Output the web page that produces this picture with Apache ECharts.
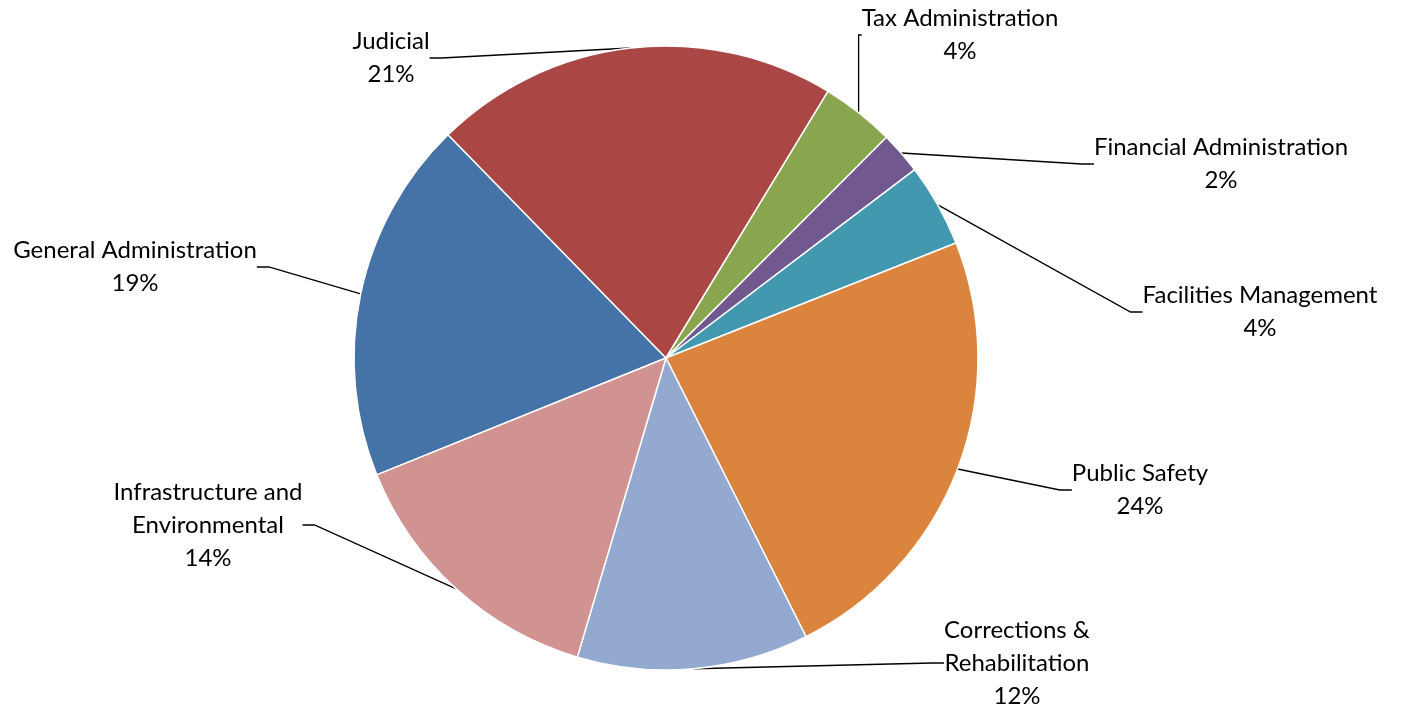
<!DOCTYPE html>
<html>
<head>
<meta charset="UTF-8">
<title>Budget by function</title>
<script src="https://cdn.jsdelivr.net/npm/echarts@6/dist/echarts.min.js"></script>
<style>
  html, body { margin: 0; padding: 0; background: #fff; }
  #main { width: 1402px; height: 709px; }
</style>
</head>
<body>
<div id="main"></div>
<script>
// categories, in the order the slices run clockwise
var categories = [
  'General Administration',
  'Judicial',
  'Tax Administration',
  'Financial Administration',
  'Facilities Management',
  'Public Safety',
  'Corrections &\nRehabilitation',
  'Infrastructure and\nEnvironmental'
];
// share of budget (percent)
var shares = [18.8, 21.0, 3.8, 2.2, 4.3, 23.6, 12.0, 14.3];
var colors = ['#4572A7', '#AA4643', '#89A54E', '#71588F', '#4198AF', '#DB843D', '#93A9CF', '#D19392'];

// where each label sits (centre of the text block)
var labelPos = [
  [135, 267], [391, 58], [960, 35], [1221, 164],
  [1260, 312], [1140, 490], [1017, 663], [208, 525]
];

var chart = echarts.init(document.getElementById('main'));

var pieData = [];
for (var i = 0; i < categories.length; i++) {
  pieData.push({ name: categories[i], value: shares[i], itemStyle: { color: colors[i] } });
}

chart.setOption({
  animation: false,
  series: [{
    type: 'pie',
    center: [666, 358],
    radius: 312,
    startAngle: 202,
    clockwise: true,
    avoidLabelOverlap: false,
    minShowLabelAngle: 0,
    itemStyle: { borderColor: '#fff', borderWidth: 1.5 },
    label: {
      show: true,
      position: 'outside',
      fontFamily: 'Lato',
      fontSize: 24,
      lineHeight: 33,
      color: '#000',
      formatter: function (p) {
        return p.name + '\n' + Math.round(p.percent) + '%';
      }
    },
    labelLine: {
      show: true,
      length: 10,
      length2: 12,
      lineStyle: { color: '#000', width: 1.3 }
    },
    labelLayout: function (params) {
      var p = labelPos[params.dataIndex];
      return { x: p[0], y: p[1], align: 'center', verticalAlign: 'middle' };
    },
    data: pieData
  }]
});
</script>
</body>
</html>
